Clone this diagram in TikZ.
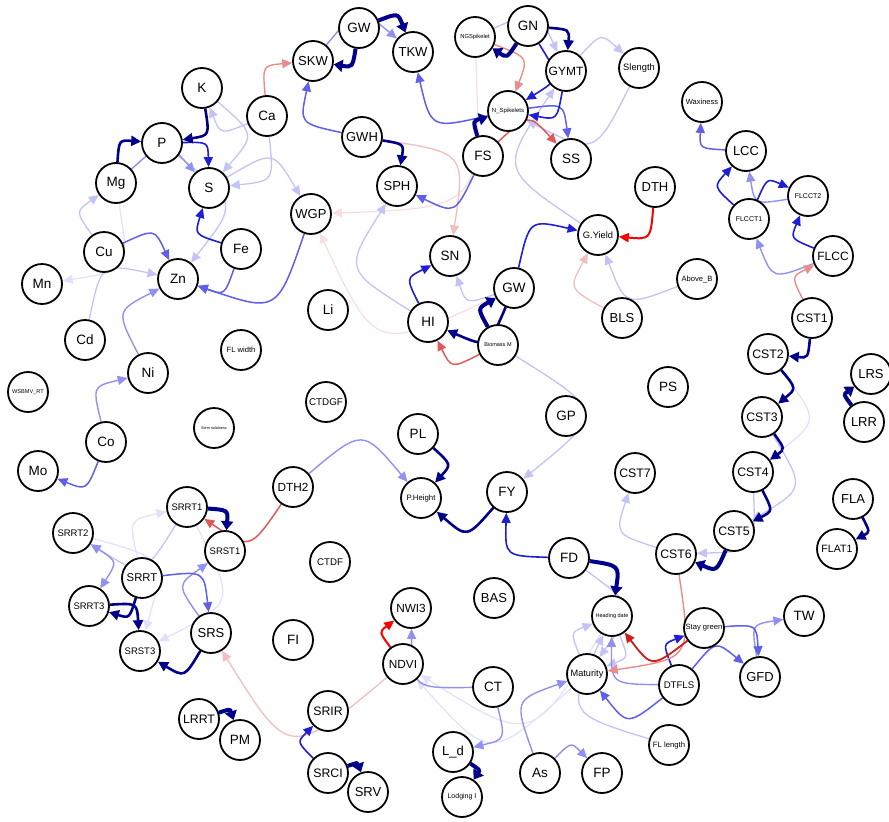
\documentclass[tikz,border=0pt]{standalone}
\usepackage{fontspec}
\setmainfont{Liberation Sans}
\usetikzlibrary{arrows.meta,calc}
\pgfdeclarelayer{background}
\pgfsetlayers{background,main}
\definecolor{nvc}{RGB}{0,0,139}
\definecolor{cbA}{RGB}{30,30,215}
\definecolor{cbB}{RGB}{95,95,235}
\definecolor{cbC}{RGB}{145,145,242}
\definecolor{cbD}{RGB}{195,195,248}
\definecolor{cbE}{RGB}{225,225,252}
\definecolor{crA}{RGB}{250,0,0}
\definecolor{crB}{RGB}{205,30,30}
\definecolor{crC}{RGB}{222,90,90}
\definecolor{crD}{RGB}{232,140,140}
\definecolor{crE}{RGB}{242,190,190}
\definecolor{crF}{RGB}{248,222,222}
\newcommand\fz[1]{\fontsize{#1}{#1}\selectfont}
\newcommand\ed[4][1.0]{\draw[#2] (#3) .. controls ($(#3)!0.5!(#4)!#1!90:(#4)$) .. (#4);}
\begin{document}
\begin{tikzpicture}[x=1pt,y=1pt,
 nd/.style={circle,draw=black,line width=1.8pt,fill=white,minimum size=40pt,inner sep=0pt},
 ar/.style={-{Triangle[length=10pt,width=9pt]}},
 eNT/.style={draw=nvc,line width=4pt,-{Triangle[length=9pt,width=12pt]}},
 eNM/.style={draw=nvc,line width=2.6pt,-{Triangle[length=10pt,width=10pt]}},
 eBA/.style={draw=cbA,line width=1.6pt,ar},
 eBB/.style={draw=cbB,line width=1.5pt,ar},
 eBC/.style={draw=cbC,line width=1.4pt,ar},
 eBD/.style={draw=cbD,line width=1.3pt,ar},
 eBE/.style={draw=cbE,line width=1.2pt,ar},
 eRA/.style={draw=crA,line width=2pt,ar},
 eRB/.style={draw=crB,line width=1.8pt,ar},
 eRC/.style={draw=crC,line width=1.5pt,ar},
 eRD/.style={draw=crD,line width=1.4pt,ar},
 eRE/.style={draw=crE,line width=1.3pt,ar},
 eRF/.style={draw=crF,line width=1.2pt,ar},
 both/.style={{Triangle[length=10pt,width=9pt]}-{Triangle[length=10pt,width=9pt]}}]
\useasboundingbox (0,0) rectangle (889,-822);
% nodes
\node[nd,font=\fz{13.5}] (GW) at (359,-28) {GW};
\node[nd,font=\fz{13}] (SKW) at (313,-61) {SKW};
\node[nd,font=\fz{13}] (TKW) at (413,-52) {TKW};
\node[nd,font=\fz{5.8}] (NGS) at (475,-37) {NGSpikelet};
\node[nd,font=\fz{13.5}] (GN) at (528,-26) {GN};
\node[nd,font=\fz{12}] (GYMT) at (566,-71) {GYMT};
\node[nd,font=\fz{9.3}] (Slength) at (639,-68) {Slength};
\node[nd,font=\fz{6}] (NSp) at (508,-111) {N\_Spikelets};
\node[nd,font=\fz{13.5}] (FS) at (483,-156) {FS};
\node[nd,font=\fz{13.5}] (SS) at (571,-159) {SS};
\node[nd,font=\fz{13}] (GWH) at (362,-137) {GWH};
\node[nd,font=\fz{13}] (SPH) at (397,-186) {SPH};
\node[nd,font=\fz{13.5}] (K) at (202,-88) {K};
\node[nd,font=\fz{13.5}] (Ca) at (267,-116) {Ca};
\node[nd,font=\fz{13.5}] (P) at (162,-143) {P};
\node[nd,font=\fz{13.5}] (Mg) at (116,-183) {Mg};
\node[nd,font=\fz{13.5}] (S) at (209,-188) {S};
\node[nd,font=\fz{13}] (WGP) at (311,-214) {WGP};
\node[nd,font=\fz{13.5}] (Fe) at (241,-249) {Fe};
\node[nd,font=\fz{13.5}] (Cu) at (104,-252) {Cu};
\node[nd,font=\fz{13.5}] (Zn) at (178,-279) {Zn};
\node[nd,font=\fz{13.5}] (Mn) at (42,-284) {Mn};
\node[nd,font=\fz{13.5}] (Li) at (328,-310) {Li};
\node[nd,font=\fz{13.5}] (Cd) at (85,-340) {Cd};
\node[nd,font=\fz{7.6}] (FLw) at (241,-350) {FL width};
\node[nd,font=\fz{13.5}] (Ni) at (148,-373) {Ni};
\node[nd,font=\fz{5.6}] (WSB) at (28,-392) {WSBMV\_RT};
\node[nd,font=\fz{3.8}] (Stem) at (214,-428) {Stem solidness};
\node[nd,font=\fz{9.8}] (CTDGF) at (326,-402) {CTDGF};
\node[nd,font=\fz{13.5}] (Co) at (106,-442) {Co};
\node[nd,font=\fz{13.5}] (Mo) at (38,-471) {Mo};
\node[nd,font=\fz{7.5}] (Wax) at (702,-102) {Waxiness};
\node[nd,font=\fz{13}] (LCC) at (746,-151) {LCC};
\node[nd,font=\fz{13}] (DTH) at (655,-187) {DTH};
\node[nd,font=\fz{7}] (FLCCTa) at (749,-219) {FLCCT1};
\node[nd,font=\fz{7}] (FLCCTb) at (808,-196) {FLCCT2};
\node[nd,font=\fz{9.3}] (GY) at (598,-235) {G.Yield};
\node[nd,font=\fz{12}] (FLCC) at (833,-256) {FLCC};
\node[nd,font=\fz{13.5}] (SN) at (450,-256) {SN};
\node[nd,font=\fz{13.5}] (GWb) at (514,-288) {GW};
\node[nd,font=\fz{13.5}] (HI) at (428,-322) {HI};
\node[nd,font=\fz{5.5}] (BM) at (498,-345) {Biomass M};
\node[nd,font=\fz{7.6}] (AB) at (697,-279) {Above\_B};
\node[nd,font=\fz{13}] (BLS) at (622,-318) {BLS};
\node[nd,font=\fz{12.3}] (CSTa) at (812,-318) {CST1};
\node[nd,font=\fz{12.3}] (CSTb) at (768,-354) {CST2};
\node[nd,font=\fz{13.5}] (PS) at (668,-387) {PS};
\node[nd,font=\fz{13}] (LRS) at (871,-374) {LRS};
\node[nd,font=\fz{13}] (LRR) at (864,-422) {LRR};
\node[nd,font=\fz{12.3}] (CSTc) at (762,-417) {CST3};
\node[nd,font=\fz{13.5}] (GP) at (566,-416) {GP};
\node[nd,font=\fz{13.5}] (PL) at (418,-434) {PL};
\node[nd,font=\fz{12.3}] (CSTg) at (635,-473) {CST7};
\node[nd,font=\fz{12.3}] (CSTd) at (753,-472) {CST4};
\node[nd,font=\fz{13}] (FLA) at (853,-499) {FLA};
\node[nd,font=\fz{13.5}] (FY) at (507,-492) {FY};
\node[nd,font=\fz{7.8}] (PH) at (421,-498) {P.Height};
\node[nd,font=\fz{11.8}] (DTHb) at (293,-487) {DTH2};
\node[nd,font=\fz{9.5}] (SRRTa) at (187,-507) {SRRT1};
\node[nd,font=\fz{9.5}] (SRSTa) at (225,-551) {SRST1};
\node[nd,font=\fz{9.5}] (SRRTb) at (73,-533) {SRRT2};
\node[nd,font=\fz{10.6}] (FLAT) at (837,-549) {FLAT1};
\node[nd,font=\fz{12.3}] (CSTe) at (734,-531) {CST5};
\node[nd,font=\fz{12.3}] (CSTf) at (676,-554) {CST6};
\node[nd,font=\fz{13.5}] (FD) at (569,-558) {FD};
\node[nd,font=\fz{9.7}] (CTDF) at (330,-562) {CTDF};
\node[nd,font=\fz{11.3}] (SRRT) at (142,-578) {SRRT};
\node[nd,font=\fz{9.5}] (SRRTc) at (89,-606) {SRRT3};
\node[nd,font=\fz{9.5}] (SRSTc) at (140,-651) {SRST3};
\node[nd,font=\fz{13}] (SRS) at (211,-633) {SRS};
\node[nd,font=\fz{13.5}] (FI) at (293,-640) {FI};
\node[nd,font=\fz{11.8}] (NWI) at (411,-608) {NWI3};
\node[nd,font=\fz{13}] (BAS) at (494,-598) {BAS};
\node[nd,font=\fz{5.5}] (HD) at (612,-616) {Heading date};
\node[nd,font=\fz{7.6}] (SG) at (704,-628) {Stay green};
\node[nd,font=\fz{13.5}] (TW) at (804,-616) {TW};
\node[nd,font=\fz{9.2}] (Mat) at (587,-674) {Maturity};
\node[nd,font=\fz{11.8}] (NDVI) at (403,-664) {NDVI};
\node[nd,font=\fz{13}] (GFD) at (760,-677) {GFD};
\node[nd,font=\fz{13.5}] (CT) at (493,-687) {CT};
\node[nd,font=\fz{9.6}] (DTFLS) at (679,-685) {DTFLS};
\node[nd,font=\fz{12.3}] (SRIR) at (328,-711) {SRIR};
\node[nd,font=\fz{12.3}] (LRRT) at (199,-719) {LRRT};
\node[nd,font=\fz{13.5}] (PM) at (240,-740) {PM};
\node[nd,font=\fz{7.7}] (FLl) at (669,-745) {FL length};
\node[nd,font=\fz{13}] (Ld) at (453,-752) {L\_d};
\node[nd,font=\fz{13.5}] (As) at (540,-773) {As};
\node[nd,font=\fz{13.5}] (FP) at (602,-773) {FP};
\node[nd,font=\fz{12.3}] (SRCI) at (328,-773) {SRCI};
\node[nd,font=\fz{13}] (SRV) at (368,-792) {SRV};
\node[nd,font=\fz{7}] (LI) at (462,-797) {Lodging I};
\begin{pgfonlayer}{background}
% very light first
\ed{eRF}{NGS}{WGP}
\ed{eRF}{GWb}{WGP}
\ed{eBE}{CSTb}{CSTd}
\ed{eBE}{HD}{NDVI}
\ed{eBE}{Mat}{NDVI}
\ed{eBE}{SRRT}{SRRTa}
\ed{eBE}{SRRTb}{SRSTc}
\ed{eBE}{SRRTa}{SRSTc}
\ed{eBE}{Mg}{Mn}
% light
\ed{eBD}{Ca}{K}
\ed{eBD}{Ca}{S}
\ed{eBD}{K}{S}
\ed{eBD}{P}{Zn}
\ed{eBD}{Cu}{Mg}
\ed{eBD}{Cd}{Zn}
\ed{eBD}{S}{WGP}
\ed{eBD}{NGS}{GYMT}
\ed{eBD}{GYMT}{Slength}
\ed{eBD}{Slength}{NSp}
\ed{eBD}{GY}{GYMT}
\ed{eBD}{HI}{SPH}
\ed{eBD}{GWb}{SN}
\ed[1.4]{eBD}{BM}{FY}
\ed{eBD}{AB}{GY}
\ed{eBD}{CSTc}{CSTe}
\ed{eBD}{CSTd}{CSTf}
\ed{eBD}{CSTf}{CSTg}
\ed[1.15]{eBD}{FLl}{HD}
\ed{eBD}{FD}{Mat}
\ed{eBD}{Mat}{HD}
\ed{eBD}{HD}{Mat}
\ed{eBD}{SRRTa}{SRRTb}
\ed{eRE}{GWH}{SN}
\ed{eRE}{BLS}{GY}
\ed[1.15]{eRE}{NDVI}{SRS}
% medium
\ed{eBC}{Mg}{S}
\ed{eBC}{SKW}{TKW}
\ed{eBC}{Ni}{Zn}
\ed{eBC}{Co}{Ni}
\ed{eBC}{FLCCTb}{LCC}
\ed{eBC}{FLCC}{FLCCTa}
\ed{eBC}{DTHb}{PH}
\ed{eBC}{SRS}{SRSTa}
\ed{eBC,both}{SRRTb}{SRRTc}
\ed{eBC}{CT}{NWI}
\ed{eBC}{CT}{Ld}
\ed{eBC}{As}{FP}
\ed{eBC}{As}{Mat}
\ed{eBC}{DTFLS}{HD}
\ed{eBC}{GFD}{TW}
\ed{eBB}{Cu}{Zn}
\ed{eBB}{Co}{Mo}
\ed{eBB}{Fe}{Zn}
\ed{eBB}{WGP}{Zn}
\ed{eBB}{GWH}{SKW}
\ed{eBB}{NSp}{TKW}
\ed{eBB}{FS}{SPH}
\ed{eBB}{NSp}{SS}
\ed{eBB}{LCC}{Wax}
\ed{eBB}{SRRT}{SRS}
\ed{eBB}{SG}{GFD}
\ed{eBB}{DTFLS}{GFD}
\ed{eBB}{DTFLS}{Mat}
\ed{eBA}{P}{S}
\ed{eBA}{Fe}{S}
\ed{eBA}{GN}{NSp}
\ed{eBA}{GYMT}{NSp}
\ed{eBA}{GWb}{GY}
\ed{eBA}{HI}{SN}
\ed{eBA}{FD}{FY}
\ed{eBA}{FLCCTa}{LCC}
\ed{eBA}{FLCCTa}{FLCCTb}
\ed{eBA}{FLCC}{FLCCTb}
\ed{eBA}{DTFLS}{SG}
\ed{eBA}{SRCI}{SRIR}
% reds
\ed{eRD}{Ca}{SKW}
\ed{eRD}{NGS}{NSp}
\ed{eRD}{CSTa}{FLCC}
\ed{eRD}{CSTf}{Mat}
\ed{eRC}{FS}{SS}
\ed{eRC}{BM}{HI}
\ed{eRC}{DTHb}{SRRTa}
\ed{eRB}{SG}{HD}
\ed{eRA}{DTH}{GY}
\ed{eRA}{NDVI}{NWI}
% navy
\ed{eNM}{K}{P}
\ed{eNM}{Mg}{P}
\ed{eNM}{GN}{GYMT}
\ed{eNM}{GWH}{SPH}
\ed{eNM}{GWb}{HI}
\ed{eNM}{PL}{PH}
\ed{eNM}{FY}{PH}
\ed{eNM}{CSTa}{CSTb}
\ed{eNM}{CSTb}{CSTc}
\ed{eNM}{CSTc}{CSTd}
\ed{eNM}{CSTd}{CSTe}
\ed{eNM}{FLA}{FLAT}
\ed{eNM}{SRS}{SRSTc}
\ed{eNM}{SRRT}{SRRTc}
\ed{eNM}{SRRTc}{SRSTc}
\ed{eNT}{GW}{TKW}
\ed{eNT}{GW}{SKW}
\ed{eNT}{GN}{NGS}
\ed{eNT}{FS}{NSp}
\ed{eNT}{BM}{GWb}
\ed{eNT}{CSTe}{CSTf}
\ed{eNT}{FD}{HD}
\ed{eNT}{LRR}{LRS}
\ed{eNT}{Ld}{LI}
\ed{eNT}{SRCI}{SRV}
\ed{eNT}{LRRT}{PM}
\ed{eNT}{SRRTa}{SRSTa}
\end{pgfonlayer}
\end{tikzpicture}
\end{document}
